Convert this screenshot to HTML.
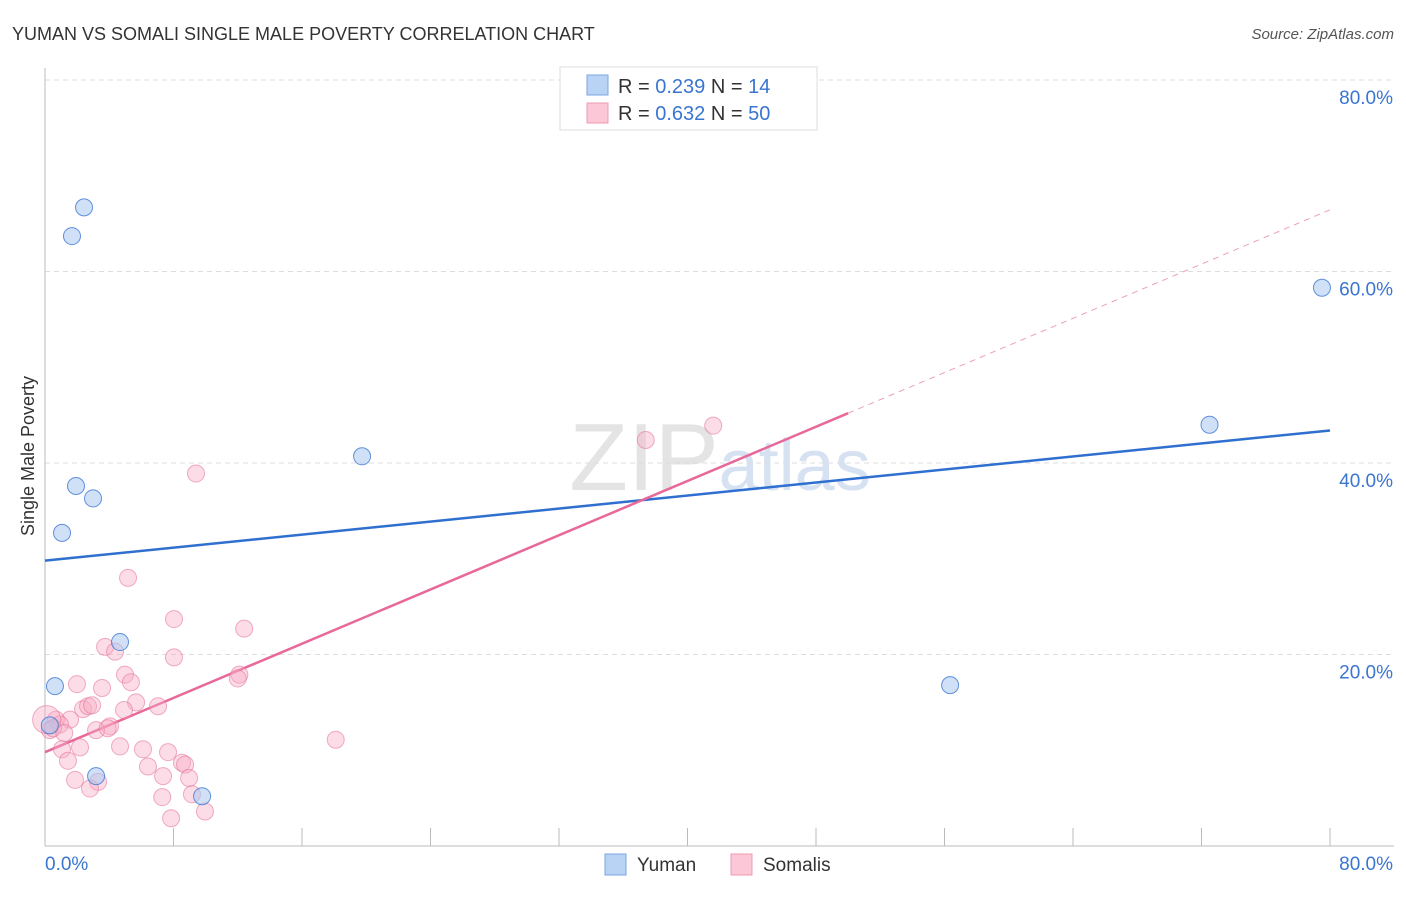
<!DOCTYPE html>
<html><head><meta charset="utf-8"><style>
body{margin:0;background:#fff;font-family:"Liberation Sans",sans-serif;}
svg text{font-family:"Liberation Sans",sans-serif;}
</style></head><body>
<svg id="chart" width="1406" height="892" xmlns="http://www.w3.org/2000/svg">
<text x="12" y="40" font-size="18" fill="#333">YUMAN VS SOMALI SINGLE MALE POVERTY CORRELATION CHART</text>
<text x="1394" y="39" font-size="15" fill="#555" font-style="italic" text-anchor="end">Source: ZipAtlas.com</text>
<text x="720" y="490" font-size="96" fill="#e4e4e4" text-anchor="middle" font-family="Liberation Serif">ZIP<tspan fill="#d6e2f2" font-family="Liberation Sans" font-size="72">atlas</tspan></text>
<g id="grid"></g>
<g id="axes"></g>
<g id="lines"></g>
<g id="pts"></g>
<text transform="translate(34,456) rotate(-90)" font-size="18" fill="#333" text-anchor="middle">Single Male Poverty</text>
<g>
<rect x="560" y="67" width="257" height="63" fill="#fff" stroke="#ddd"/>
<rect x="587" y="75" width="21" height="20" fill="#b9d3f5" stroke="#7aa6e0"/>
<rect x="587" y="103" width="21" height="20" fill="#fcc8d7" stroke="#ec9ab2"/>
<text x="618" y="93" font-size="20" fill="#333">R = <tspan fill="#3a75d0">0.239</tspan>   N =  <tspan fill="#3a75d0">14</tspan></text>
<text x="618" y="120" font-size="20" fill="#333">R = <tspan fill="#3a75d0">0.632</tspan>   N = <tspan fill="#3a75d0">50</tspan></text>
</g>
<g><rect x="605" y="854" width="21" height="21" fill="#b9d3f5" stroke="#7aa6e0"/><text x="637" y="871" font-size="19" fill="#333">Yuman</text></g>
<g><rect x="731" y="854" width="21" height="21" fill="#fcc8d7" stroke="#ec9ab2"/><text x="763" y="871" font-size="19" fill="#333">Somalis</text></g>
</svg>
<script>
const yumanX=[2.43,1.68,1.93,2.99,1.06,19.74,4.67,0.62,3.18,9.78,72.5,79.5,56.35,0.3];
const yumanY=[66.7,63.7,37.6,36.3,32.7,40.7,21.3,16.7,7.3,5.2,44.0,58.3,16.8,12.6];
const somaliX=[9.4,5.17,8.03,12.4,3.74,4.36,8.03,4.98,5.35,1.99,3.55,12.1,12.0,5.67,7.04,2.37,2.68,2.93,4.92,4.05,1.56,0.68,0.93,0.3,3.18,3.9,4.67,2.18,1.06,6.1,7.66,8.53,8.72,6.41,1.43,7.35,8.97,1.87,3.3,2.8,7.3,9.15,9.96,7.85,18.1,37.4,41.6,0.1,0.5,1.2];
const somaliY=[38.9,28.0,23.7,22.7,20.8,20.3,19.7,17.9,17.1,16.9,16.5,17.9,17.5,15.0,14.6,14.3,14.6,14.7,14.2,12.5,13.2,13.2,12.7,12.1,12.1,12.3,10.4,10.3,10.1,10.1,9.8,8.7,8.5,8.3,8.9,7.3,7.1,6.9,6.7,6.0,5.1,5.4,3.6,2.9,11.1,42.4,43.9,13.2,12.3,11.8];
const yumanTrend=[29.8,0.17];   // intercept, slope
const somaliTrend=[9.8,0.708];
const yTicks=[20,40,60,80];
const xTickVals=[0,8,16,24,32,40,48,56,64,72,80];
const NS="http://www.w3.org/2000/svg";
const X=v=>45+v*16.0625, Y=v=>846-v*9.575;
function mk(tag,attrs,parent){const e=document.createElementNS(NS,tag);for(const k in attrs)e.setAttribute(k,attrs[k]);document.getElementById(parent).appendChild(e);return e;}
yTicks.forEach(t=>{
 const l=mk('line',{x1:45,x2:1394,y1:Y(t),y2:Y(t),stroke:'#ddd','stroke-dasharray':'5,4'},'grid');
 
 
 const tx=mk('text',{x:1393,y:Y(t)+24,'font-size':19,fill:'#3a75d0','text-anchor':'end'},'grid');
 tx.textContent=t.toFixed(1)+'%';
 
 
});
mk('line',{x1:45,x2:45,y1:68,y2:846,stroke:'#bbb'},'axes');
mk('line',{x1:45,x2:1394,y1:846,y2:846,stroke:'#bbb'},'axes');
xTickVals.forEach(t=>{const l=mk('line',{x1:X(t),x2:X(t),y1:828,y2:846,stroke:'#bbb'},'axes');
 
 });
const x0=mk('text',{x:45,y:870,'font-size':19,fill:'#3a75d0'},'axes');x0.textContent='0.0%';


const x1=mk('text',{x:1393,y:870,'font-size':19,fill:'#3a75d0','text-anchor':'end'},'axes');x1.textContent='80.0%';


somaliX.forEach((v,i)=>{const c=mk('circle',{cx:X(v),cy:Y(somaliY[i]),r:i==47?14:8.5,fill:'rgba(248,170,195,0.4)',stroke:'rgba(230,120,155,0.6)'},'pts');
 
 });
yumanX.forEach((v,i)=>{const c=mk('circle',{cx:X(v),cy:Y(yumanY[i]),r:8.5,fill:'rgba(170,200,240,0.55)',stroke:'rgba(60,120,210,0.8)'},'pts');
 
 });
const yl=mk('line',{x1:X(0),y1:Y(yumanTrend[0]),x2:X(80),y2:Y(yumanTrend[0]+80*yumanTrend[1]),stroke:'#2f6fd0','stroke-width':2.5},'lines');


const sl=mk('line',{x1:X(0),y1:Y(somaliTrend[0]),x2:X(50),y2:Y(somaliTrend[0]+50*somaliTrend[1]),stroke:'#e8689a','stroke-width':2.5},'lines');


const sd=mk('line',{x1:X(50),y1:Y(somaliTrend[0]+50*somaliTrend[1]),x2:X(80),y2:Y(somaliTrend[0]+80*somaliTrend[1]),stroke:'#eba0b8','stroke-width':1,'stroke-dasharray':'6,5'},'lines');


</script>
</body></html>
